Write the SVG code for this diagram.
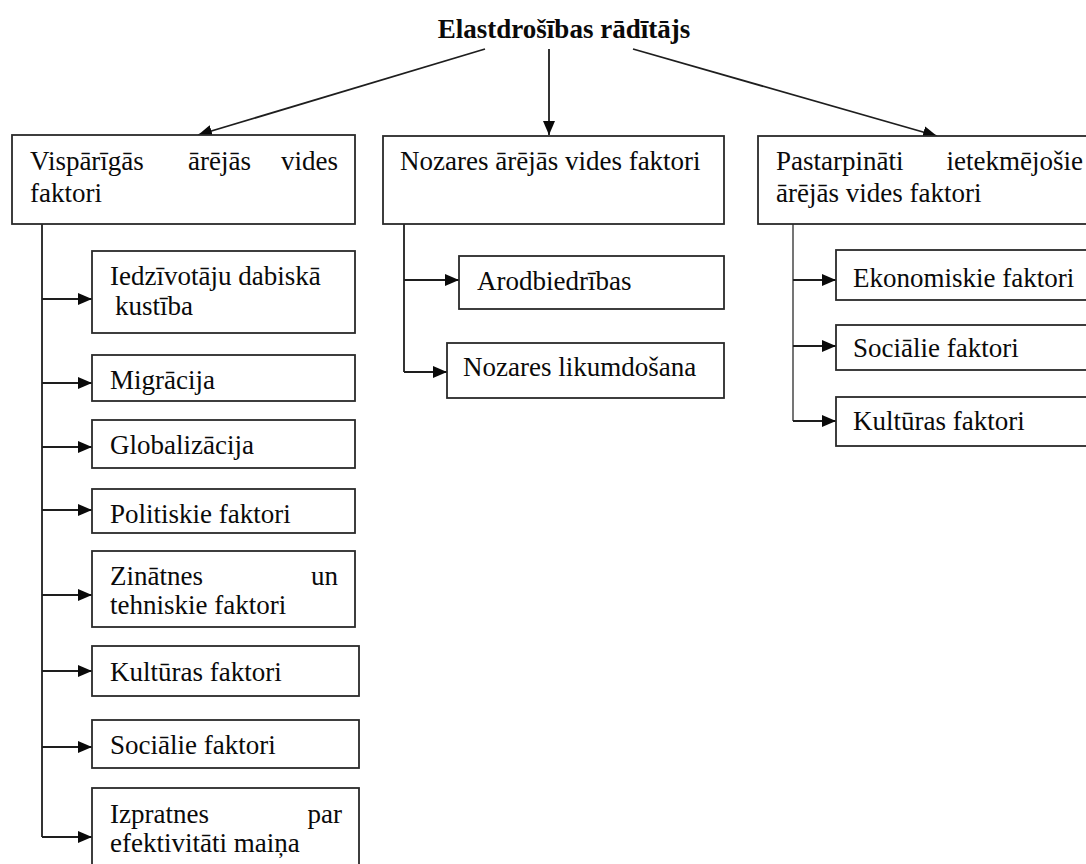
<svg xmlns="http://www.w3.org/2000/svg" width="1086" height="864" viewBox="0 0 1086 864">
  <style>
    .box { fill: #ffffff; stroke: #2a2a2a; stroke-width: 1.8; }
    .t { font-family: "Liberation Serif", "Times New Roman", serif; font-size: 27px; fill: #0a0a0a; }
    .title { font-family: "Liberation Serif", "Times New Roman", serif; font-size: 27px; font-weight: bold; fill: #0a0a0a; }
    .link { fill: none; stroke: #1e1e1e; stroke-width: 1.8; }
    .trunk-light { fill: none; stroke: #666666; stroke-width: 1.8; }
  </style>
  <defs>
    <marker id="arrow" markerUnits="userSpaceOnUse" markerWidth="16" markerHeight="14" refX="14" refY="6" orient="auto">
      <path d="M0,0 L14,6 L0,12 z" fill="#0a0a0a"/>
    </marker>
  </defs>

  <rect width="1086" height="864" fill="#ffffff"/>

  <!-- connectors -->
  <g id="connectors">
    <!-- from the root title to the three groups -->
    <line class="link" x1="485" y1="49" x2="198" y2="135" marker-end="url(#arrow)"/>
    <line class="link" x1="549" y1="49" x2="549" y2="135" marker-end="url(#arrow)"/>
    <line class="link" x1="633" y1="49" x2="937" y2="136" marker-end="url(#arrow)"/>

    <!-- general factors trunk -->
    <line class="link" x1="42" y1="224" x2="42" y2="837"/>
    <line class="link" x1="42" y1="299" x2="92" y2="299" marker-end="url(#arrow)"/>
    <line class="link" x1="42" y1="383" x2="92" y2="383" marker-end="url(#arrow)"/>
    <line class="link" x1="42" y1="447" x2="92" y2="447" marker-end="url(#arrow)"/>
    <line class="link" x1="42" y1="510" x2="92" y2="510" marker-end="url(#arrow)"/>
    <line class="link" x1="42" y1="595" x2="92" y2="595" marker-end="url(#arrow)"/>
    <line class="link" x1="42" y1="671" x2="92" y2="671" marker-end="url(#arrow)"/>
    <line class="link" x1="42" y1="747" x2="92" y2="747" marker-end="url(#arrow)"/>
    <line class="link" x1="42" y1="837" x2="92" y2="837" marker-end="url(#arrow)"/>

    <!-- industry factors trunk -->
    <line class="link" x1="404" y1="224" x2="404" y2="372"/>
    <line class="link" x1="404" y1="280" x2="459" y2="280" marker-end="url(#arrow)"/>
    <line class="link" x1="404" y1="372" x2="447" y2="372" marker-end="url(#arrow)"/>

    <!-- indirect factors trunk -->
    <line class="trunk-light" x1="793" y1="224" x2="793" y2="421"/>
    <line class="link" x1="793" y1="280" x2="836" y2="280" marker-end="url(#arrow)"/>
    <line class="link" x1="793" y1="346" x2="836" y2="346" marker-end="url(#arrow)"/>
    <line class="link" x1="793" y1="421" x2="836" y2="421" marker-end="url(#arrow)"/>
  </g>

  <!-- root -->
  <g id="root">
    <text class="title" x="564" y="38" text-anchor="middle">Elastdrošības rādītājs</text>
  </g>

  <!-- top-level groups -->
  <g id="general">
    <rect class="box" x="12" y="135" width="343" height="89"/>
    <text class="t" x="30" y="170">Vispārīgās</text>
    <text class="t" x="188" y="170">ārējās</text>
    <text class="t" x="338" y="170" text-anchor="end">vides</text>
    <text class="t" x="30" y="202">faktori</text>
  </g>
  <g id="industry">
    <rect class="box" x="383" y="136" width="341" height="88"/>
    <text class="t" x="400" y="170">Nozares ārējās vides faktori</text>
  </g>
  <g id="indirect">
    <rect class="box" x="758" y="136" width="340" height="88"/>
    <text class="t" x="776" y="170">Pastarpināti</text>
    <text class="t" x="1083" y="170" text-anchor="end">ietekmējošie</text>
    <text class="t" x="776" y="202">ārējās vides faktori</text>
  </g>

  <!-- general factors -->
  <g id="g-natural">
    <rect class="box" x="92" y="251" width="263" height="82"/>
    <text class="t" x="110" y="285">Iedzīvotāju dabiskā</text>
    <text class="t" x="115" y="315">kustība</text>
  </g>
  <g id="g-migration">
    <rect class="box" x="92" y="355" width="263" height="46"/>
    <text class="t" x="110" y="389">Migrācija</text>
  </g>
  <g id="g-globalization">
    <rect class="box" x="92" y="420" width="263" height="48"/>
    <text class="t" x="110" y="454">Globalizācija</text>
  </g>
  <g id="g-political">
    <rect class="box" x="92" y="489" width="263" height="44"/>
    <text class="t" x="110" y="523">Politiskie faktori</text>
  </g>
  <g id="g-science">
    <rect class="box" x="92" y="551" width="263" height="76"/>
    <text class="t" x="110" y="585">Zinātnes</text>
    <text class="t" x="338" y="585" text-anchor="end">un</text>
    <text class="t" x="110" y="614">tehniskie faktori</text>
  </g>
  <g id="g-culture">
    <rect class="box" x="92" y="646" width="267" height="50"/>
    <text class="t" x="110" y="681">Kultūras faktori</text>
  </g>
  <g id="g-social">
    <rect class="box" x="92" y="720" width="267" height="48"/>
    <text class="t" x="110" y="754">Sociālie faktori</text>
  </g>
  <g id="g-efficiency">
    <rect class="box" x="92" y="788" width="267" height="100"/>
    <text class="t" x="110" y="823">Izpratnes</text>
    <text class="t" x="342" y="823" text-anchor="end">par</text>
    <text class="t" x="110" y="852">efektivitāti maiņa</text>
  </g>

  <!-- industry factors -->
  <g id="i-unions">
    <rect class="box" x="459" y="256" width="265" height="53"/>
    <text class="t" x="477" y="290">Arodbiedrības</text>
  </g>
  <g id="i-law">
    <rect class="box" x="447" y="343" width="277" height="55"/>
    <text class="t" x="463" y="376">Nozares likumdošana</text>
  </g>

  <!-- indirect factors -->
  <g id="d-economic">
    <rect class="box" x="836" y="250" width="262" height="50"/>
    <text class="t" x="853" y="287">Ekonomiskie faktori</text>
  </g>
  <g id="d-social">
    <rect class="box" x="836" y="325" width="262" height="45"/>
    <text class="t" x="853" y="357">Sociālie faktori</text>
  </g>
  <g id="d-culture">
    <rect class="box" x="836" y="397" width="262" height="49"/>
    <text class="t" x="853" y="430">Kultūras faktori</text>
  </g>
</svg>
